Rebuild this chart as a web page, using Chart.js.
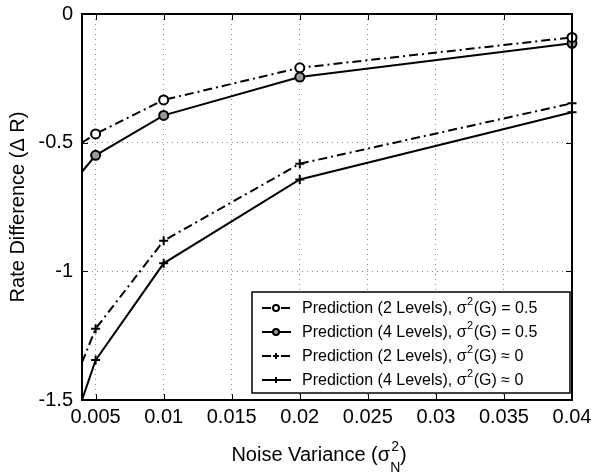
<!DOCTYPE html>
<html>
<head>
<meta charset="utf-8">
<script src="https://cdn.jsdelivr.net/npm/chart.js@4.4.1/dist/chart.umd.min.js"></script>
<style>
  html, body { margin: 0; padding: 0; background: #fff; }
</style>
</head>
<body>
<canvas id="c" width="591" height="473"></canvas>
<script>
// Rate difference vs. noise variance, four prediction curves (Matlab-style figure).

const noiseVar = [0.004, 0.005, 0.01, 0.02, 0.04];

const pred2LevSig05 = [-0.500, -0.466, -0.334, -0.209, -0.091];
const pred4LevSig05 = [-0.613, -0.549, -0.394, -0.245, -0.114];
const pred2LevSig0  = [-1.354, -1.223, -0.881, -0.582, -0.347];
const pred4LevSig0  = [-1.500, -1.345, -0.969, -0.643, -0.382];

const seriesLabels = [
  'Prediction (2 Levels), σ²(G) = 0.5',
  'Prediction (4 Levels), σ²(G) = 0.5',
  'Prediction (2 Levels), σ²(G) ≈ 0',
  'Prediction (4 Levels), σ²(G) ≈ 0',
];

const xTicks = [0.005, 0.01, 0.015, 0.02, 0.025, 0.03, 0.035, 0.04];
const yTicks = [0, -0.5, -1, -1.5];

const yTitle = 'Rate Difference (Δ R)';
const xTitle = ['Noise Variance (σ', '2', ')', 'N'];

const FONT = '"Liberation Sans", Arial, Helvetica, sans-serif';
const DASHDOT = [9, 4, 2, 4];
const FS = 20;

function pts(ys) {
  return noiseVar.map((x, i) => ({ x, y: ys[i] }));
}

function line(label, ys, dashed, style, fill) {
  return {
    label,
    data: pts(ys),
    borderColor: '#000',
    borderWidth: 2,
    borderDash: dashed ? DASHDOT : [],
    pointStyle: style,
    pointRadius: [0, 4.5, 4.5, 4.5, 4.5],
    pointBorderWidth: 2,
    pointBorderColor: '#000',
    pointBackgroundColor: fill,
    tension: 0,
    clip: false,
  };
}

// draw text with a raised "2" where the label has "²"
function drawSupText(ctx, text, x, y, size) {
  const parts = text.split('²');
  ctx.font = `${size}px ${FONT}`;
  ctx.fillText(parts[0], x, y);
  x += ctx.measureText(parts[0]).width;
  if (parts.length > 1) {
    ctx.font = `${Math.round(size * 0.7)}px ${FONT}`;
    ctx.fillText('2', x + 0.5, y - size * 0.42);
    x += ctx.measureText('2').width + 1;
    ctx.font = `${size}px ${FONT}`;
    ctx.fillText(parts[1], x, y);
  }
}

const matlabFrame = {
  id: 'matlabFrame',
  afterDraw(chart) {
    const { ctx, chartArea: a, scales: { x, y } } = chart;
    ctx.save();

    // inward tick marks
    ctx.strokeStyle = '#000';
    ctx.lineWidth = 1;
    ctx.setLineDash([]);
    ctx.beginPath();
    for (const v of xTicks) {
      const px = Math.round(x.getPixelForValue(v)) + 0.5;
      ctx.moveTo(px, a.bottom); ctx.lineTo(px, a.bottom - 6);
      ctx.moveTo(px, a.top); ctx.lineTo(px, a.top + 6);
    }
    for (const v of yTicks) {
      const py = Math.round(y.getPixelForValue(v)) + 0.5;
      ctx.moveTo(a.left, py); ctx.lineTo(a.left + 6, py);
      ctx.moveTo(a.right, py); ctx.lineTo(a.right - 6, py);
    }
    ctx.stroke();

    // legend box
    const lx = 252, ly = 292, lw = 318, lh = 101;
    ctx.fillStyle = '#fff';
    ctx.fillRect(lx, ly, lw, lh);
    ctx.lineWidth = 1.5;
    ctx.strokeRect(lx, ly, lw, lh);
    chart.data.datasets.forEach((ds, i) => {
      const ry = ly + 16 + i * 24;
      ctx.strokeStyle = '#000';
      ctx.lineWidth = 2;
      ctx.setLineDash(ds.borderDash);
      ctx.beginPath();
      ctx.moveTo(lx + 10, ry); ctx.lineTo(lx + 39, ry);
      ctx.stroke();
      ctx.setLineDash([]);
      ctx.fillStyle = ds.pointBackgroundColor;
      ctx.lineWidth = 2;
      Chart.helpers.drawPoint(ctx, { pointStyle: ds.pointStyle, radius: 3, borderWidth: 2, rotation: 0 }, lx + 24, ry);
      ctx.fillStyle = '#000';
      ctx.textBaseline = 'middle';
      ctx.textAlign = 'left';
      drawSupText(ctx, ds.label, lx + 50, ry + 1, 16);
    });

    // axes frame
    ctx.strokeStyle = '#000';
    ctx.lineWidth = 2;
    ctx.strokeRect(a.left, a.top, a.width, a.height);

    // x title with sigma^2 over N
    ctx.fillStyle = '#000';
    ctx.textBaseline = 'alphabetic';
    ctx.textAlign = 'left';
    ctx.font = `${FS}px ${FONT}`;
    const w0 = ctx.measureText(xTitle[0]).width;
    ctx.font = `14px ${FONT}`;
    const w1 = ctx.measureText(xTitle[1]).width;
    ctx.font = `${FS}px ${FONT}`;
    const w2 = ctx.measureText(xTitle[2]).width;
    const total = w0 + w1 + w2 + 2;
    let tx = (a.left + a.right) / 2 - total / 2 - 8;
    const base = 461;
    ctx.fillText(xTitle[0], tx, base);
    tx += w0;
    ctx.font = `14px ${FONT}`;
    ctx.fillText(xTitle[1], tx + 1, base - 10);
    ctx.fillText(xTitle[3], tx, base + 11);
    tx += w1 + 2;
    ctx.font = `${FS}px ${FONT}`;
    ctx.fillText(xTitle[2], tx, base);

    ctx.restore();
  },
};

const gridOpts = { color: 'rgba(0,0,0,0.45)', lineWidth: 1, drawTicks: false };
const borderOpts = { display: false, dash: [1, 4] };
const tickFont = { family: FONT, size: FS };

new Chart(document.getElementById('c').getContext('2d'), {
  type: 'line',
  data: {
    datasets: [
      line(seriesLabels[0], pred2LevSig05, true, 'circle', '#fff'),
      line(seriesLabels[1], pred4LevSig05, false, 'circle', '#999'),
      line(seriesLabels[2], pred2LevSig0, true, 'cross', '#000'),
      line(seriesLabels[3], pred4LevSig0, false, 'cross', '#000'),
    ],
  },
  options: {
    responsive: false,
    animation: false,
    devicePixelRatio: 1,
    layout: { padding: { top: 14, right: 19, left: 0, bottom: 0 } },
    plugins: {
      legend: { display: false },
      tooltip: { enabled: false },
    },
    scales: {
      x: {
        type: 'linear',
        min: 0.004, max: 0.04,
        afterBuildTicks: s => { s.ticks = xTicks.map(v => ({ value: v })); },
        afterFit: s => { s.height = 73; s.paddingLeft = 0; s.paddingRight = 0; },
        grid: gridOpts,
        border: borderOpts,
        ticks: { font: tickFont, color: '#000', padding: 5, maxRotation: 0, autoSkip: false,
                 callback: v => String(v) },
      },
      y: {
        type: 'linear',
        min: -1.5, max: 0,
        afterBuildTicks: s => { s.ticks = yTicks.map(v => ({ value: v })); },
        afterFit: s => { s.width = 82; s.paddingTop = 0; s.paddingBottom = 0; },
        grid: gridOpts,
        border: borderOpts,
        ticks: { font: tickFont, color: '#000', padding: 9, callback: v => String(v) },
        title: { display: true, text: yTitle, color: '#000', font: { family: FONT, size: FS },
                 padding: { top: 6, bottom: 0 } },
      },
    },
  },
  plugins: [matlabFrame],
});
</script>
</body>
</html>
